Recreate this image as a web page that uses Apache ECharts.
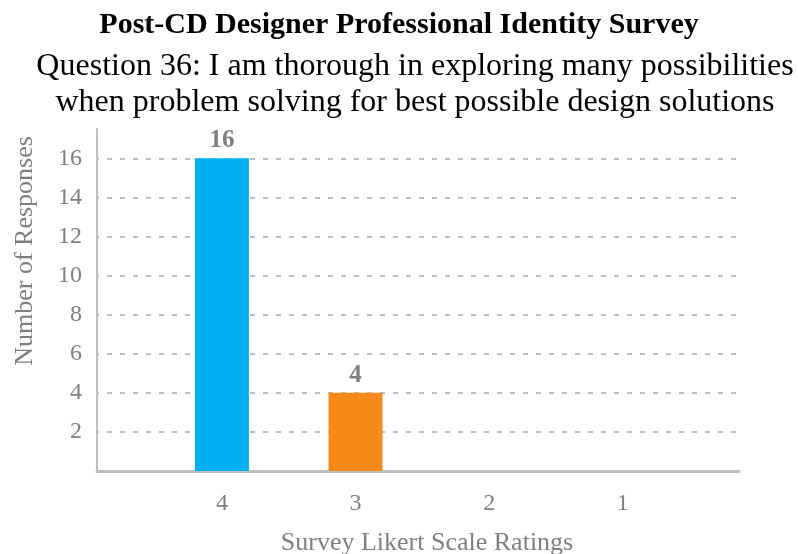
<!DOCTYPE html>
<html>
<head>
<meta charset="utf-8">
<script src="https://cdn.jsdelivr.net/npm/echarts@6/dist/echarts.min.js"></script>
<style>
  html, body { margin: 0; padding: 0; background: #ffffff; }
  #chart { width: 798px; height: 554px; }
</style>
</head>
<body>
<div id="chart"></div>
<script>
// Likert ratings shown left to right (4 down to 1) and how many people chose each
const ratings = [4, 3, 2, 1];
const responses = [16, 4, 0, 0];
const barColors = ['#00B0F0', '#F5891A', '#A5A5A5', '#FFC000'];
const yTicks = [2, 4, 6, 8, 10, 12, 14, 16];

const chartTitle = 'Post-CD Designer Professional Identity Survey';
const chartSubtitle = 'Question 36: I am thorough in exploring many possibilities\nwhen problem solving for best possible design solutions';
const xAxisTitle = 'Survey Likert Scale Ratings';
const yAxisTitle = 'Number of Responses';

const serif = '"Liberation Serif", "DejaVu Serif", serif';
const gray = '#7f7f7f';
const lineGray = '#bfbfbf';

const chart = echarts.init(document.getElementById('chart'), null, { renderer: 'canvas' });

const barData = ratings.map((r, i) => ({
  value: [r, responses[i]],
  itemStyle: { color: barColors[i] },
  label: { show: responses[i] > 0 }
}));

chart.setOption({
  animation: false,
  backgroundColor: '#ffffff',
  title: [
    {
      text: chartTitle,
      left: 394,
      textAlign: 'center',
      top: 5,
      textStyle: { fontFamily: serif, fontSize: 30, fontWeight: 'bold', color: '#000000' }
    },
    {
      text: chartSubtitle,
      left: 410,
      textAlign: 'center',
      top: 44,
      textStyle: { fontFamily: serif, fontSize: 32, fontWeight: 'normal', color: '#000000', lineHeight: 36, align: 'center' }
    }
  ],
  grid: { left: 97, right: 59, top: 129, bottom: 83, containLabel: false, outerBoundsMode: 'none' },
  xAxis: {
    type: 'value',
    inverse: true,
    min: 0.13,
    max: 4.935,
    splitNumber: 4,
    name: xAxisTitle,
    nameLocation: 'middle',
    nameGap: 59,
    nameTextStyle: { fontFamily: serif, fontSize: 26, color: gray, padding: [0, 0, 0, 18] },
    axisLine: { show: true, lineStyle: { color: lineGray, width: 3 } },
    axisTick: { show: false },
    splitLine: { show: false },
    axisLabel: {
      fontFamily: serif, fontSize: 24, color: gray, margin: 21,
      showMinLabel: false, showMaxLabel: false,
      formatter: v => (ratings.includes(v) ? String(v) : '')
    }
  },
  yAxis: {
    type: 'value',
    min: 0,
    max: 17.5,
    interval: 2,
    axisLine: { show: true, lineStyle: { color: lineGray, width: 2 } },
    axisTick: { show: false },
    axisLabel: {
      fontFamily: serif, fontSize: 24, color: gray, margin: 15,
      showMinLabel: false, showMaxLabel: false,
      formatter: v => (yTicks.includes(v) ? String(v) : '')
    },
    splitLine: {
      show: true,
      showMinLine: false,
      showMaxLine: false,
      lineStyle: { color: lineGray, width: 2, type: [5, 8], dashOffset: -10 }
    }
  },
  graphic: [
    {
      type: 'text',
      x: 25,
      y: 251,
      rotation: Math.PI / 2,
      style: {
        text: yAxisTitle,
        fontFamily: serif,
        fontSize: 26,
        fill: gray,
        align: 'center',
        verticalAlign: 'middle'
      }
    }
  ],
  series: [
    {
      type: 'bar',
      barWidth: 54,
      data: barData,
      label: {
        show: true,
        position: 'top',
        distance: 5,
        fontFamily: serif,
        fontSize: 25,
        fontWeight: 'bold',
        color: gray,
        formatter: p => String(p.value[1])
      }
    }
  ]
});
</script>
</body>
</html>
